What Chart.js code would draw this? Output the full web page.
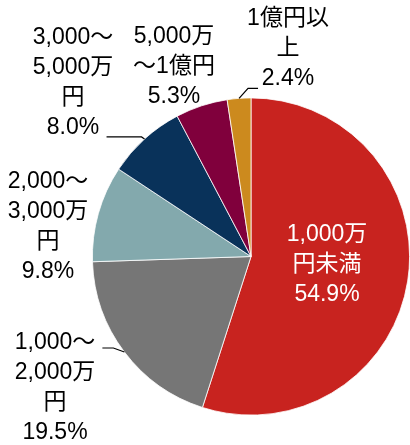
<!DOCTYPE html>
<html>
<head>
<meta charset="utf-8">
<script src="https://cdn.jsdelivr.net/npm/chart.js@4/dist/chart.umd.min.js"></script>
<style>
  html, body { margin: 0; padding: 0; background: #fff; }
  #wrap { width: 410px; height: 445px; }
</style>
</head>
<body>
<div id="wrap"><canvas id="pie"></canvas></div>
<script>
const categories = ['1,000万円未満', '1,000～2,000万円', '2,000～3,000万円', '3,000～5,000万円', '5,000万～1億円', '1億円以上'];
const shares = [54.9, 19.5, 9.8, 8.0, 5.3, 2.4];
const labelLines = [
    ['1,000万', '円未満'],
    ['1,000～', '2,000万', '円'],
    ['2,000～', '3,000万', '円'],
    ['3,000～', '5,000万', '円'],
    ['5,000万', '～1億円'],
    ['1億円以', '上']
];
const colors = ['#C8231F', '#767676', '#83A9AD', '#09325A', '#80003C', '#CC8A1E'];

// label block centre, offset from pie centre; leader: elbow offset + end x offset from the slice edge
const labelLayout = [
    { dx: 76, dy: 8, color: '#fff' },
    { dx: -196, dy: 131, color: '#000', leader: { ex: -11, ey: -4, end: -22 } },
    { dx: -203, dy: -30, color: '#000' },
    { dx: -178, dy: -174, color: '#000', leader: { ex: -3, ey: -2, end: -38 } },
    { dx: -77, dy: -190, color: '#000' },
    { dx: 37, dy: -208, color: '#000', leader: { ex: 9, ey: -10, end: 19 } }
];

const FONT = '23px "Liberation Sans", Arial, "Noto Sans CJK JP", sans-serif';
const LINE_H = 30;

const pieLabels = {
    id: 'pieLabels',
    afterDatasetsDraw(chart) {
        const ctx = chart.ctx;
        const arcs = chart.getDatasetMeta(0).data;
        ctx.save();
        ctx.font = FONT;
        ctx.textAlign = 'center';
        ctx.textBaseline = 'middle';
        arcs.forEach((arc, i) => {
            const lay = labelLayout[i];
            const cx = arc.x, cy = arc.y;
            const lines = labelLines[i].concat([shares[i].toFixed(1) + '%']);
            const bx = cx + lay.dx, by = cy + lay.dy;
            ctx.fillStyle = lay.color;
            lines.forEach((t, k) => {
                ctx.fillText(t, bx, by + (k - (lines.length - 1) / 2) * LINE_H);
            });
            if (lay.leader) {
                const mid = (arc.startAngle + arc.endAngle) / 2;
                const px = cx + Math.cos(mid) * arc.outerRadius;
                const py = cy + Math.sin(mid) * arc.outerRadius;
                const L = lay.leader;
                ctx.strokeStyle = '#000';
                ctx.lineWidth = 1.2;
                ctx.beginPath();
                ctx.moveTo(px, py);
                ctx.lineTo(px + L.ex, py + L.ey);
                ctx.lineTo(px + L.end, py + L.ey);
                ctx.stroke();
            }
        });
        ctx.restore();
    }
};

new Chart(
    document.getElementById('pie'),
    {
        type: 'pie',
        data: {
            labels: categories,
            datasets: [{
                data: shares,
                backgroundColor: colors,
                borderColor: '#fff',
                borderWidth: 0.8
            }]
        },
        options: {
            responsive: true,
            maintainAspectRatio: false,
            animation: false,
            layout: {
                padding: { left: 92, right: 0, top: 97, bottom: 29 }
            },
            plugins: {
                legend: { display: false },
                tooltip: { enabled: false }
            }
        },
        plugins: [pieLabels]
    }
);
</script>
</body>
</html>
